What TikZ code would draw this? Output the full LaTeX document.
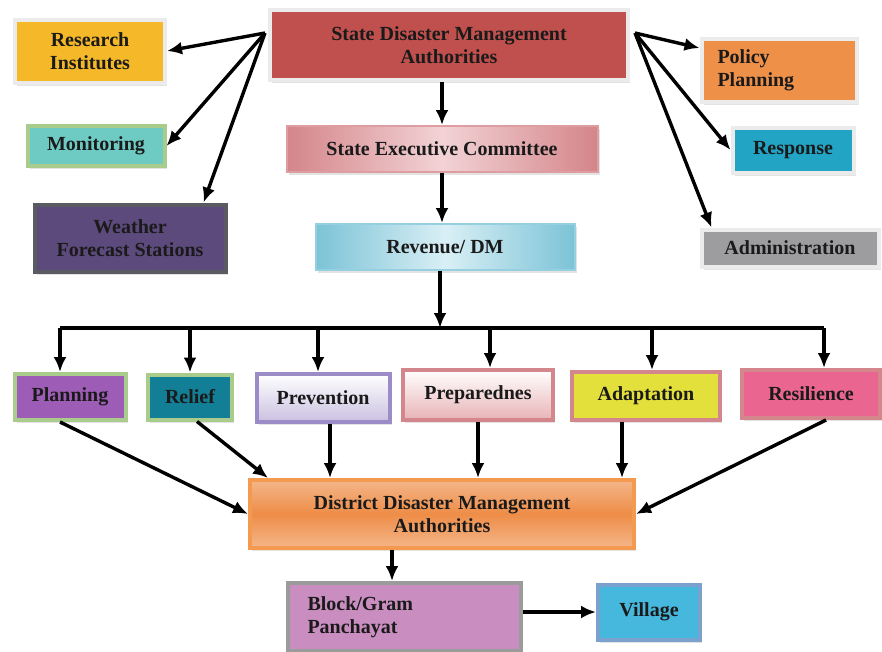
\documentclass[tikz,border=0pt]{standalone}
\usepackage{fontspec}
\setmainfont{Liberation Serif}
\usepackage{xcolor}
\usepackage{tikz}
\usetikzlibrary{shapes,arrows.meta,positioning,calc,shadows}

\definecolor{sdmared}{HTML}{C0504D}
\definecolor{softframe}{HTML}{EBEBEB}
\definecolor{researchyel}{HTML}{F5B828}
\definecolor{monitorteal}{HTML}{6DCBC3}
\definecolor{greenframe}{HTML}{A9CC8C}
\definecolor{weatherpur}{HTML}{5D4A7D}
\definecolor{darkframe}{HTML}{5A5A62}
\definecolor{secpink}{HTML}{D4858A}
\definecolor{seclight}{HTML}{F2D3D5}
\definecolor{revblue}{HTML}{7CC3D7}
\definecolor{revlight}{HTML}{D9EFF5}
\definecolor{policyorg}{HTML}{EF9049}
\definecolor{responseblue}{HTML}{22A5C5}
\definecolor{admingrey}{HTML}{9D9D9F}
\definecolor{planpurple}{HTML}{9D5CB5}
\definecolor{reliefteal}{HTML}{137F96}
\definecolor{prevlav}{HTML}{C9C0E0}
\definecolor{lavframe}{HTML}{9B8BC6}
\definecolor{preppink}{HTML}{E8B3B6}
\definecolor{pinkframe}{HTML}{D3878C}
\definecolor{adaptyel}{HTML}{E3E03C}
\definecolor{resilpink}{HTML}{EA6590}
\definecolor{ddmaorg}{HTML}{EE8D47}
\definecolor{ddmalight}{HTML}{F4B68A}
\definecolor{ddmaframe}{HTML}{F49A50}
\definecolor{blockpink}{HTML}{C98DC0}
\definecolor{greyframe}{HTML}{9B9B9B}
\definecolor{villageblue}{HTML}{46B8DE}
\definecolor{blueframe}{HTML}{7BA2CE}
\definecolor{inktext}{HTML}{1A1A1A}

\begin{document}
\begin{tikzpicture}[x=1pt, y=-1pt, >=Latex]
    % Styles
    \tikzstyle{box} = [rectangle, draw=softframe, line width=4pt, inner sep=0pt, align=center, text=inktext, font=\fontsize{20}{23}\selectfont\bfseries, drop shadow={shadow xshift=2pt, shadow yshift=-3pt, fill=black!22}]
    \tikzstyle{line} = [draw, line width=3.4pt, -{Latex[length=15pt, width=13pt]}]
    \tikzstyle{bus} = [draw, line width=3.4pt]

    \useasboundingbox (0,0) rectangle (882,651);

    % Nodes
    \node [box, fill=sdmared, minimum width=358pt, minimum height=70pt] (sdma) at (449,45) {State Disaster Management\\Authorities};
    \node [box, fill=researchyel, minimum width=150pt, minimum height=63pt] (research) at (90,51) {Research\\Institutes};
    \node [box, fill=monitorteal, draw=greenframe, minimum width=137pt, minimum height=40pt] (monitor) at (96,146) {Monitoring};
    \node [box, fill=weatherpur, draw=darkframe, minimum width=191pt, minimum height=67pt] (weather) at (130,238) {Weather\\Forecast Stations};
    \node [box, left color=secpink, right color=secpink, middle color=seclight, draw=secpink!80, line width=2pt, minimum width=311pt, minimum height=46pt] (sec) at (442,149) {State Executive Committee};
    \node [box, left color=revblue, right color=revblue, middle color=revlight, draw=revblue!80, line width=2pt, minimum width=259pt, minimum height=46pt] (revdm) at (445,247) {Revenue/ DM};

    \node [box, fill=policyorg, align=left, text width=123pt, inner xsep=16pt, minimum height=63pt] (policy) at (779,70) {Policy\\Planning};
    \node [box, fill=responseblue, minimum width=121pt, minimum height=45pt] (response) at (793,150) {Response};
    \node [box, fill=admingrey, minimum width=177pt, minimum height=37pt] (admin) at (790,248) {Administration};

    \node [box, fill=planpurple, draw=greenframe, minimum width=111pt, minimum height=46pt] (planning) at (70,397) {Planning};
    \node [box, fill=reliefteal, draw=greenframe, minimum width=84pt, minimum height=45pt] (relief) at (190,397) {Relief};
    \node [box, top color=white, bottom color=prevlav, draw=lavframe, minimum width=133pt, minimum height=48pt] (prevention) at (323,398) {Prevention};
    \node [box, top color=white, bottom color=preppink, draw=pinkframe, minimum width=150pt, minimum height=50pt] (prep) at (478,395) {Preparednes};
    \node [box, fill=adaptyel, draw=pinkframe, minimum width=148pt, minimum height=48pt] (adapt) at (646,396) {Adaptation};
    \node [box, fill=resilpink, draw=pinkframe, minimum width=138pt, minimum height=48pt] (resil) at (811,394) {Resilience};

    \node [box, top color=ddmalight, bottom color=ddmalight, middle color=ddmaorg, draw=ddmaframe, minimum width=384pt, minimum height=68pt] (ddma) at (442,514) {District Disaster Management\\Authorities};
    \node [box, fill=blockpink, draw=greyframe, align=left, text width=193pt, inner xsep=20pt, minimum height=68pt] (block) at (404,617) {Block/Gram\\Panchayat};
    \node [box, fill=villageblue, draw=blueframe, minimum width=102pt, minimum height=55pt] (village) at (649,612) {Village};

    % Hubs
    \coordinate (lhub) at (265,33);
    \coordinate (rhub) at (635,33);
    \coordinate (split) at (440,328);

    % Paths
    \path [line] (lhub) -- (research.east);
    \path [line] (lhub) -- (monitor.east);
    \path [line] (lhub) -- ([xshift=-24pt]weather.north east);
    \path [line] (rhub) -- ([yshift=22pt]policy.west);
    \path [line] (rhub) -- (response.west);
    \path [line] (rhub) -- ([xshift=12pt]admin.north west);

    \path [line] (sec.north |- sdma.south) -- (sec.north);
    \path [line] (sec.south) -- (sec.south |- revdm.north);
    \path [line] (split |- revdm.south) -- (split);
    \path [bus] ([xshift=-10pt]planning.north |- split) -- ([xshift=13pt]resil.north |- split);
    \foreach \n/\dx in {planning/-10,relief/0,prevention/-5,prep/12,adapt/6,resil/13}
        \path [line] ([xshift=\dx pt]\n.north |- split) -- ([xshift=\dx pt]\n.north);

    \path [line] ([xshift=-10pt]planning.south) -- (ddma.west);
    \path [line] ([xshift=7pt]relief.south) -- ([xshift=20pt]ddma.north west);
    \path [line] ([xshift=7pt]prevention.south) -- ([xshift=7pt]prevention.south |- ddma.north);
    \path [line] (prep.south) -- (prep.south |- ddma.north);
    \path [line] ([xshift=-24pt]adapt.south) -- ([xshift=-24pt]adapt.south |- ddma.north);
    \path [line] ([xshift=15pt]resil.south) -- (ddma.east);
    \path [line] ([xshift=-50pt]ddma.south) -- ([xshift=-12pt]block.north);
    \path [line] (village.west -| block.east) -- (village.west);
\end{tikzpicture}
\end{document}
